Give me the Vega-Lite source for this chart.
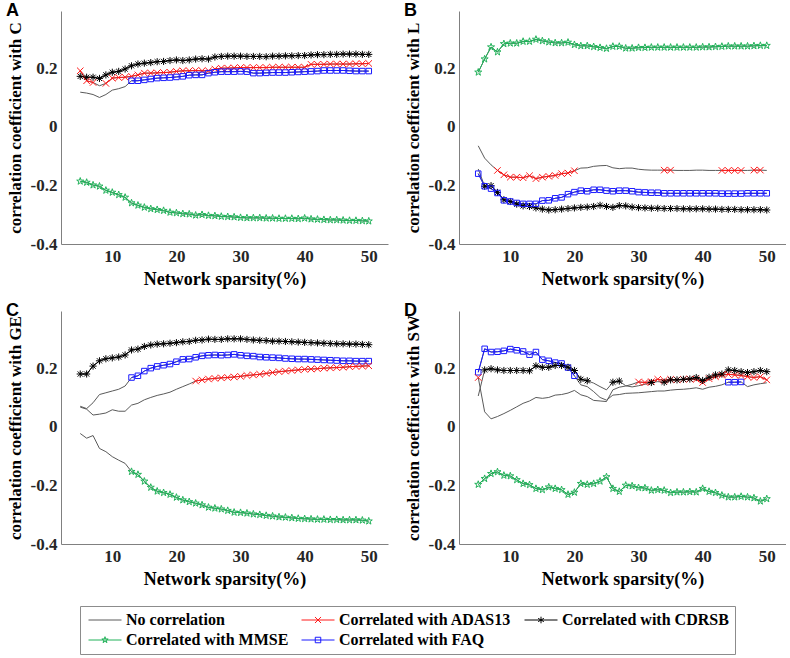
{
"$schema": "https://vega.github.io/schema/vega-lite/v6.json",
"background": "white",
"padding": {"left": 6, "right": 0, "top": 2, "bottom": 0},
"datasets": {"d": [
{"p":"A","s":"CDRSB","x":5,"y":0.172,"g":1},{"p":"A","s":"CDRSB","x":6,"y":0.169,"g":1},{"p":"A","s":"CDRSB","x":7,"y":0.169,"g":1},{"p":"A","s":"CDRSB","x":8,"y":0.165,"g":1},{"p":"A","s":"CDRSB","x":9,"y":0.177,"g":1},{"p":"A","s":"CDRSB","x":10,"y":0.186,"g":1},{"p":"A","s":"CDRSB","x":11,"y":0.189,"g":1},{"p":"A","s":"CDRSB","x":12,"y":0.197,"g":1},{"p":"A","s":"CDRSB","x":13,"y":0.208,"g":1},{"p":"A","s":"CDRSB","x":14,"y":0.214,"g":1},
{"p":"A","s":"CDRSB","x":15,"y":0.217,"g":1},{"p":"A","s":"CDRSB","x":16,"y":0.219,"g":1},{"p":"A","s":"CDRSB","x":17,"y":0.222,"g":1},{"p":"A","s":"CDRSB","x":18,"y":0.223,"g":1},{"p":"A","s":"CDRSB","x":19,"y":0.226,"g":1},{"p":"A","s":"CDRSB","x":20,"y":0.228,"g":1},{"p":"A","s":"CDRSB","x":21,"y":0.226,"g":1},{"p":"A","s":"CDRSB","x":22,"y":0.228,"g":1},{"p":"A","s":"CDRSB","x":23,"y":0.231,"g":1},{"p":"A","s":"CDRSB","x":24,"y":0.232,"g":1},
{"p":"A","s":"CDRSB","x":25,"y":0.231,"g":1},{"p":"A","s":"CDRSB","x":26,"y":0.238,"g":1},{"p":"A","s":"CDRSB","x":27,"y":0.24,"g":1},{"p":"A","s":"CDRSB","x":28,"y":0.241,"g":1},{"p":"A","s":"CDRSB","x":29,"y":0.241,"g":1},{"p":"A","s":"CDRSB","x":30,"y":0.241,"g":1},{"p":"A","s":"CDRSB","x":31,"y":0.24,"g":1},{"p":"A","s":"CDRSB","x":32,"y":0.24,"g":1},{"p":"A","s":"CDRSB","x":33,"y":0.24,"g":1},{"p":"A","s":"CDRSB","x":34,"y":0.239,"g":1},
{"p":"A","s":"CDRSB","x":35,"y":0.241,"g":1},{"p":"A","s":"CDRSB","x":36,"y":0.241,"g":1},{"p":"A","s":"CDRSB","x":37,"y":0.242,"g":1},{"p":"A","s":"CDRSB","x":38,"y":0.242,"g":1},{"p":"A","s":"CDRSB","x":39,"y":0.243,"g":1},{"p":"A","s":"CDRSB","x":40,"y":0.243,"g":1},{"p":"A","s":"CDRSB","x":41,"y":0.245,"g":1},{"p":"A","s":"CDRSB","x":42,"y":0.246,"g":1},{"p":"A","s":"CDRSB","x":43,"y":0.246,"g":1},{"p":"A","s":"CDRSB","x":44,"y":0.247,"g":1},
{"p":"A","s":"CDRSB","x":45,"y":0.247,"g":1},{"p":"A","s":"CDRSB","x":46,"y":0.248,"g":1},{"p":"A","s":"CDRSB","x":47,"y":0.248,"g":1},{"p":"A","s":"CDRSB","x":48,"y":0.248,"g":1},{"p":"A","s":"CDRSB","x":49,"y":0.247,"g":1},{"p":"A","s":"CDRSB","x":50,"y":0.247,"g":1},
{"p":"A","s":"ADAS13","x":5,"y":0.191,"g":1},{"p":"A","s":"ADAS13","x":6,"y":0.157,"g":1},{"p":"A","s":"ADAS13","x":7,"y":0.151,"g":1},{"p":"A","s":"ADAS13","x":8,"y":0.14,"g":0},{"p":"A","s":"ADAS13","x":9,"y":0.148,"g":1},{"p":"A","s":"ADAS13","x":10,"y":0.166,"g":1},{"p":"A","s":"ADAS13","x":11,"y":0.168,"g":1},{"p":"A","s":"ADAS13","x":12,"y":0.169,"g":1},{"p":"A","s":"ADAS13","x":13,"y":0.172,"g":1},{"p":"A","s":"ADAS13","x":14,"y":0.177,"g":1},
{"p":"A","s":"ADAS13","x":15,"y":0.183,"g":1},{"p":"A","s":"ADAS13","x":16,"y":0.183,"g":1},{"p":"A","s":"ADAS13","x":17,"y":0.184,"g":1},{"p":"A","s":"ADAS13","x":18,"y":0.185,"g":1},{"p":"A","s":"ADAS13","x":19,"y":0.186,"g":1},{"p":"A","s":"ADAS13","x":20,"y":0.189,"g":1},{"p":"A","s":"ADAS13","x":21,"y":0.191,"g":1},{"p":"A","s":"ADAS13","x":22,"y":0.191,"g":1},{"p":"A","s":"ADAS13","x":23,"y":0.192,"g":1},{"p":"A","s":"ADAS13","x":24,"y":0.191,"g":1},
{"p":"A","s":"ADAS13","x":25,"y":0.191,"g":1},{"p":"A","s":"ADAS13","x":26,"y":0.197,"g":1},{"p":"A","s":"ADAS13","x":27,"y":0.2,"g":1},{"p":"A","s":"ADAS13","x":28,"y":0.2,"g":1},{"p":"A","s":"ADAS13","x":29,"y":0.201,"g":1},{"p":"A","s":"ADAS13","x":30,"y":0.202,"g":1},{"p":"A","s":"ADAS13","x":31,"y":0.202,"g":1},{"p":"A","s":"ADAS13","x":32,"y":0.202,"g":1},{"p":"A","s":"ADAS13","x":33,"y":0.202,"g":1},{"p":"A","s":"ADAS13","x":34,"y":0.202,"g":1},
{"p":"A","s":"ADAS13","x":35,"y":0.203,"g":1},{"p":"A","s":"ADAS13","x":36,"y":0.203,"g":1},{"p":"A","s":"ADAS13","x":37,"y":0.203,"g":1},{"p":"A","s":"ADAS13","x":38,"y":0.203,"g":1},{"p":"A","s":"ADAS13","x":39,"y":0.203,"g":1},{"p":"A","s":"ADAS13","x":40,"y":0.203,"g":1},{"p":"A","s":"ADAS13","x":41,"y":0.213,"g":1},{"p":"A","s":"ADAS13","x":42,"y":0.213,"g":1},{"p":"A","s":"ADAS13","x":43,"y":0.213,"g":1},{"p":"A","s":"ADAS13","x":44,"y":0.214,"g":1},
{"p":"A","s":"ADAS13","x":45,"y":0.214,"g":1},{"p":"A","s":"ADAS13","x":46,"y":0.214,"g":1},{"p":"A","s":"ADAS13","x":47,"y":0.214,"g":1},{"p":"A","s":"ADAS13","x":48,"y":0.215,"g":1},{"p":"A","s":"ADAS13","x":49,"y":0.215,"g":1},{"p":"A","s":"ADAS13","x":50,"y":0.216,"g":1},
{"p":"A","s":"FAQ","x":5,"y":0.118,"g":0},{"p":"A","s":"FAQ","x":6,"y":0.115,"g":0},{"p":"A","s":"FAQ","x":7,"y":0.11,"g":0},{"p":"A","s":"FAQ","x":8,"y":0.1,"g":0},{"p":"A","s":"FAQ","x":9,"y":0.11,"g":0},{"p":"A","s":"FAQ","x":10,"y":0.125,"g":0},{"p":"A","s":"FAQ","x":11,"y":0.13,"g":0},{"p":"A","s":"FAQ","x":12,"y":0.137,"g":0},{"p":"A","s":"FAQ","x":13,"y":0.157,"g":1},{"p":"A","s":"FAQ","x":14,"y":0.157,"g":1},
{"p":"A","s":"FAQ","x":15,"y":0.16,"g":1},{"p":"A","s":"FAQ","x":16,"y":0.163,"g":1},{"p":"A","s":"FAQ","x":17,"y":0.166,"g":1},{"p":"A","s":"FAQ","x":18,"y":0.167,"g":1},{"p":"A","s":"FAQ","x":19,"y":0.168,"g":1},{"p":"A","s":"FAQ","x":20,"y":0.17,"g":1},{"p":"A","s":"FAQ","x":21,"y":0.172,"g":1},{"p":"A","s":"FAQ","x":22,"y":0.176,"g":1},{"p":"A","s":"FAQ","x":23,"y":0.177,"g":1},{"p":"A","s":"FAQ","x":24,"y":0.177,"g":1},
{"p":"A","s":"FAQ","x":25,"y":0.183,"g":1},{"p":"A","s":"FAQ","x":26,"y":0.186,"g":1},{"p":"A","s":"FAQ","x":27,"y":0.188,"g":1},{"p":"A","s":"FAQ","x":28,"y":0.188,"g":1},{"p":"A","s":"FAQ","x":29,"y":0.188,"g":1},{"p":"A","s":"FAQ","x":30,"y":0.189,"g":1},{"p":"A","s":"FAQ","x":31,"y":0.188,"g":1},{"p":"A","s":"FAQ","x":32,"y":0.183,"g":1},{"p":"A","s":"FAQ","x":33,"y":0.183,"g":1},{"p":"A","s":"FAQ","x":34,"y":0.184,"g":1},
{"p":"A","s":"FAQ","x":35,"y":0.185,"g":1},{"p":"A","s":"FAQ","x":36,"y":0.185,"g":1},{"p":"A","s":"FAQ","x":37,"y":0.185,"g":1},{"p":"A","s":"FAQ","x":38,"y":0.186,"g":1},{"p":"A","s":"FAQ","x":39,"y":0.187,"g":1},{"p":"A","s":"FAQ","x":40,"y":0.188,"g":1},{"p":"A","s":"FAQ","x":41,"y":0.189,"g":1},{"p":"A","s":"FAQ","x":42,"y":0.19,"g":1},{"p":"A","s":"FAQ","x":43,"y":0.192,"g":1},{"p":"A","s":"FAQ","x":44,"y":0.192,"g":1},
{"p":"A","s":"FAQ","x":45,"y":0.192,"g":1},{"p":"A","s":"FAQ","x":46,"y":0.192,"g":1},{"p":"A","s":"FAQ","x":47,"y":0.191,"g":1},{"p":"A","s":"FAQ","x":48,"y":0.19,"g":1},{"p":"A","s":"FAQ","x":49,"y":0.19,"g":1},{"p":"A","s":"FAQ","x":50,"y":0.19,"g":1},
{"p":"A","s":"MMSE","x":5,"y":-0.186,"g":1},{"p":"A","s":"MMSE","x":6,"y":-0.19,"g":1},{"p":"A","s":"MMSE","x":7,"y":-0.199,"g":1},{"p":"A","s":"MMSE","x":8,"y":-0.203,"g":1},{"p":"A","s":"MMSE","x":9,"y":-0.217,"g":1},{"p":"A","s":"MMSE","x":10,"y":-0.224,"g":1},{"p":"A","s":"MMSE","x":11,"y":-0.232,"g":1},{"p":"A","s":"MMSE","x":12,"y":-0.241,"g":1},{"p":"A","s":"MMSE","x":13,"y":-0.26,"g":1},{"p":"A","s":"MMSE","x":14,"y":-0.268,"g":1},
{"p":"A","s":"MMSE","x":15,"y":-0.275,"g":1},{"p":"A","s":"MMSE","x":16,"y":-0.28,"g":1},{"p":"A","s":"MMSE","x":17,"y":-0.283,"g":1},{"p":"A","s":"MMSE","x":18,"y":-0.286,"g":1},{"p":"A","s":"MMSE","x":19,"y":-0.292,"g":1},{"p":"A","s":"MMSE","x":20,"y":-0.294,"g":1},{"p":"A","s":"MMSE","x":21,"y":-0.297,"g":1},{"p":"A","s":"MMSE","x":22,"y":-0.298,"g":1},{"p":"A","s":"MMSE","x":23,"y":-0.302,"g":1},{"p":"A","s":"MMSE","x":24,"y":-0.3,"g":1},
{"p":"A","s":"MMSE","x":25,"y":-0.303,"g":1},{"p":"A","s":"MMSE","x":26,"y":-0.304,"g":1},{"p":"A","s":"MMSE","x":27,"y":-0.306,"g":1},{"p":"A","s":"MMSE","x":28,"y":-0.307,"g":1},{"p":"A","s":"MMSE","x":29,"y":-0.308,"g":1},{"p":"A","s":"MMSE","x":30,"y":-0.31,"g":1},{"p":"A","s":"MMSE","x":31,"y":-0.311,"g":1},{"p":"A","s":"MMSE","x":32,"y":-0.311,"g":1},{"p":"A","s":"MMSE","x":33,"y":-0.311,"g":1},{"p":"A","s":"MMSE","x":34,"y":-0.312,"g":1},
{"p":"A","s":"MMSE","x":35,"y":-0.312,"g":1},{"p":"A","s":"MMSE","x":36,"y":-0.313,"g":1},{"p":"A","s":"MMSE","x":37,"y":-0.313,"g":1},{"p":"A","s":"MMSE","x":38,"y":-0.313,"g":1},{"p":"A","s":"MMSE","x":39,"y":-0.314,"g":1},{"p":"A","s":"MMSE","x":40,"y":-0.312,"g":1},{"p":"A","s":"MMSE","x":41,"y":-0.315,"g":1},{"p":"A","s":"MMSE","x":42,"y":-0.316,"g":1},{"p":"A","s":"MMSE","x":43,"y":-0.317,"g":1},{"p":"A","s":"MMSE","x":44,"y":-0.318,"g":1},
{"p":"A","s":"MMSE","x":45,"y":-0.318,"g":1},{"p":"A","s":"MMSE","x":46,"y":-0.319,"g":1},{"p":"A","s":"MMSE","x":47,"y":-0.32,"g":1},{"p":"A","s":"MMSE","x":48,"y":-0.32,"g":1},{"p":"A","s":"MMSE","x":49,"y":-0.321,"g":1},{"p":"A","s":"MMSE","x":50,"y":-0.322,"g":1},

{"p":"B","s":"ADAS13","x":5,"y":-0.065,"g":0},{"p":"B","s":"ADAS13","x":6,"y":-0.107,"g":0},{"p":"B","s":"ADAS13","x":7,"y":-0.13,"g":0},{"p":"B","s":"ADAS13","x":8,"y":-0.149,"g":1},{"p":"B","s":"ADAS13","x":9,"y":-0.164,"g":1},{"p":"B","s":"ADAS13","x":10,"y":-0.172,"g":1},{"p":"B","s":"ADAS13","x":11,"y":-0.172,"g":1},{"p":"B","s":"ADAS13","x":12,"y":-0.174,"g":1},{"p":"B","s":"ADAS13","x":13,"y":-0.167,"g":1},{"p":"B","s":"ADAS13","x":14,"y":-0.177,"g":1},
{"p":"B","s":"ADAS13","x":15,"y":-0.172,"g":1},{"p":"B","s":"ADAS13","x":16,"y":-0.169,"g":1},{"p":"B","s":"ADAS13","x":17,"y":-0.166,"g":1},{"p":"B","s":"ADAS13","x":18,"y":-0.16,"g":1},{"p":"B","s":"ADAS13","x":19,"y":-0.158,"g":1},{"p":"B","s":"ADAS13","x":20,"y":-0.15,"g":1},{"p":"B","s":"ADAS13","x":21,"y":-0.141,"g":0},{"p":"B","s":"ADAS13","x":22,"y":-0.14,"g":0},{"p":"B","s":"ADAS13","x":23,"y":-0.135,"g":0},{"p":"B","s":"ADAS13","x":24,"y":-0.133,"g":0},
{"p":"B","s":"ADAS13","x":25,"y":-0.132,"g":0},{"p":"B","s":"ADAS13","x":26,"y":-0.14,"g":0},{"p":"B","s":"ADAS13","x":27,"y":-0.143,"g":0},{"p":"B","s":"ADAS13","x":28,"y":-0.141,"g":0},{"p":"B","s":"ADAS13","x":29,"y":-0.141,"g":0},{"p":"B","s":"ADAS13","x":30,"y":-0.145,"g":0},{"p":"B","s":"ADAS13","x":31,"y":-0.147,"g":0},{"p":"B","s":"ADAS13","x":32,"y":-0.148,"g":0},{"p":"B","s":"ADAS13","x":33,"y":-0.148,"g":0},{"p":"B","s":"ADAS13","x":34,"y":-0.148,"g":1},
{"p":"B","s":"ADAS13","x":35,"y":-0.148,"g":1},{"p":"B","s":"ADAS13","x":36,"y":-0.149,"g":0},{"p":"B","s":"ADAS13","x":37,"y":-0.149,"g":0},{"p":"B","s":"ADAS13","x":38,"y":-0.149,"g":0},{"p":"B","s":"ADAS13","x":39,"y":-0.148,"g":0},{"p":"B","s":"ADAS13","x":40,"y":-0.148,"g":0},{"p":"B","s":"ADAS13","x":41,"y":-0.149,"g":0},{"p":"B","s":"ADAS13","x":42,"y":-0.149,"g":0},{"p":"B","s":"ADAS13","x":43,"y":-0.149,"g":1},{"p":"B","s":"ADAS13","x":44,"y":-0.149,"g":1},
{"p":"B","s":"ADAS13","x":45,"y":-0.149,"g":1},{"p":"B","s":"ADAS13","x":46,"y":-0.149,"g":1},{"p":"B","s":"ADAS13","x":47,"y":-0.149,"g":0},{"p":"B","s":"ADAS13","x":48,"y":-0.148,"g":1},{"p":"B","s":"ADAS13","x":49,"y":-0.148,"g":1},{"p":"B","s":"ADAS13","x":50,"y":-0.149,"g":0},
{"p":"B","s":"CDRSB","x":5,"y":-0.144,"g":0},{"p":"B","s":"CDRSB","x":6,"y":-0.203,"g":1},{"p":"B","s":"CDRSB","x":7,"y":-0.201,"g":1},{"p":"B","s":"CDRSB","x":8,"y":-0.224,"g":1},{"p":"B","s":"CDRSB","x":9,"y":-0.249,"g":1},{"p":"B","s":"CDRSB","x":10,"y":-0.255,"g":1},{"p":"B","s":"CDRSB","x":11,"y":-0.264,"g":1},{"p":"B","s":"CDRSB","x":12,"y":-0.27,"g":1},{"p":"B","s":"CDRSB","x":13,"y":-0.272,"g":1},{"p":"B","s":"CDRSB","x":14,"y":-0.277,"g":1},
{"p":"B","s":"CDRSB","x":15,"y":-0.281,"g":1},{"p":"B","s":"CDRSB","x":16,"y":-0.284,"g":1},{"p":"B","s":"CDRSB","x":17,"y":-0.283,"g":1},{"p":"B","s":"CDRSB","x":18,"y":-0.281,"g":1},{"p":"B","s":"CDRSB","x":19,"y":-0.279,"g":1},{"p":"B","s":"CDRSB","x":20,"y":-0.277,"g":1},{"p":"B","s":"CDRSB","x":21,"y":-0.275,"g":1},{"p":"B","s":"CDRSB","x":22,"y":-0.274,"g":1},{"p":"B","s":"CDRSB","x":23,"y":-0.272,"g":1},{"p":"B","s":"CDRSB","x":24,"y":-0.268,"g":1},
{"p":"B","s":"CDRSB","x":25,"y":-0.272,"g":1},{"p":"B","s":"CDRSB","x":26,"y":-0.275,"g":1},{"p":"B","s":"CDRSB","x":27,"y":-0.269,"g":1},{"p":"B","s":"CDRSB","x":28,"y":-0.27,"g":1},{"p":"B","s":"CDRSB","x":29,"y":-0.274,"g":1},{"p":"B","s":"CDRSB","x":30,"y":-0.276,"g":1},{"p":"B","s":"CDRSB","x":31,"y":-0.277,"g":1},{"p":"B","s":"CDRSB","x":32,"y":-0.278,"g":1},{"p":"B","s":"CDRSB","x":33,"y":-0.278,"g":1},{"p":"B","s":"CDRSB","x":34,"y":-0.279,"g":1},
{"p":"B","s":"CDRSB","x":35,"y":-0.279,"g":1},{"p":"B","s":"CDRSB","x":36,"y":-0.279,"g":1},{"p":"B","s":"CDRSB","x":37,"y":-0.28,"g":1},{"p":"B","s":"CDRSB","x":38,"y":-0.28,"g":1},{"p":"B","s":"CDRSB","x":39,"y":-0.28,"g":1},{"p":"B","s":"CDRSB","x":40,"y":-0.28,"g":1},{"p":"B","s":"CDRSB","x":41,"y":-0.281,"g":1},{"p":"B","s":"CDRSB","x":42,"y":-0.281,"g":1},{"p":"B","s":"CDRSB","x":43,"y":-0.282,"g":1},{"p":"B","s":"CDRSB","x":44,"y":-0.282,"g":1},
{"p":"B","s":"CDRSB","x":45,"y":-0.282,"g":1},{"p":"B","s":"CDRSB","x":46,"y":-0.283,"g":1},{"p":"B","s":"CDRSB","x":47,"y":-0.283,"g":1},{"p":"B","s":"CDRSB","x":48,"y":-0.283,"g":1},{"p":"B","s":"CDRSB","x":49,"y":-0.283,"g":1},{"p":"B","s":"CDRSB","x":50,"y":-0.284,"g":1},
{"p":"B","s":"FAQ","x":5,"y":-0.16,"g":1},{"p":"B","s":"FAQ","x":6,"y":-0.203,"g":1},{"p":"B","s":"FAQ","x":7,"y":-0.211,"g":1},{"p":"B","s":"FAQ","x":8,"y":-0.226,"g":1},{"p":"B","s":"FAQ","x":9,"y":-0.251,"g":1},{"p":"B","s":"FAQ","x":10,"y":-0.255,"g":1},{"p":"B","s":"FAQ","x":11,"y":-0.26,"g":1},{"p":"B","s":"FAQ","x":12,"y":-0.263,"g":1},{"p":"B","s":"FAQ","x":13,"y":-0.263,"g":1},{"p":"B","s":"FAQ","x":14,"y":-0.263,"g":1},
{"p":"B","s":"FAQ","x":15,"y":-0.252,"g":1},{"p":"B","s":"FAQ","x":16,"y":-0.251,"g":1},{"p":"B","s":"FAQ","x":17,"y":-0.244,"g":1},{"p":"B","s":"FAQ","x":18,"y":-0.241,"g":1},{"p":"B","s":"FAQ","x":19,"y":-0.23,"g":1},{"p":"B","s":"FAQ","x":20,"y":-0.223,"g":1},{"p":"B","s":"FAQ","x":21,"y":-0.218,"g":1},{"p":"B","s":"FAQ","x":22,"y":-0.22,"g":1},{"p":"B","s":"FAQ","x":23,"y":-0.215,"g":1},{"p":"B","s":"FAQ","x":24,"y":-0.215,"g":1},
{"p":"B","s":"FAQ","x":25,"y":-0.218,"g":1},{"p":"B","s":"FAQ","x":26,"y":-0.22,"g":1},{"p":"B","s":"FAQ","x":27,"y":-0.218,"g":1},{"p":"B","s":"FAQ","x":28,"y":-0.218,"g":1},{"p":"B","s":"FAQ","x":29,"y":-0.22,"g":1},{"p":"B","s":"FAQ","x":30,"y":-0.223,"g":1},{"p":"B","s":"FAQ","x":31,"y":-0.224,"g":1},{"p":"B","s":"FAQ","x":32,"y":-0.225,"g":1},{"p":"B","s":"FAQ","x":33,"y":-0.225,"g":1},{"p":"B","s":"FAQ","x":34,"y":-0.227,"g":1},
{"p":"B","s":"FAQ","x":35,"y":-0.227,"g":1},{"p":"B","s":"FAQ","x":36,"y":-0.227,"g":1},{"p":"B","s":"FAQ","x":37,"y":-0.227,"g":1},{"p":"B","s":"FAQ","x":38,"y":-0.227,"g":1},{"p":"B","s":"FAQ","x":39,"y":-0.227,"g":1},{"p":"B","s":"FAQ","x":40,"y":-0.227,"g":1},{"p":"B","s":"FAQ","x":41,"y":-0.227,"g":1},{"p":"B","s":"FAQ","x":42,"y":-0.227,"g":1},{"p":"B","s":"FAQ","x":43,"y":-0.228,"g":1},{"p":"B","s":"FAQ","x":44,"y":-0.228,"g":1},
{"p":"B","s":"FAQ","x":45,"y":-0.228,"g":1},{"p":"B","s":"FAQ","x":46,"y":-0.228,"g":1},{"p":"B","s":"FAQ","x":47,"y":-0.227,"g":1},{"p":"B","s":"FAQ","x":48,"y":-0.227,"g":1},{"p":"B","s":"FAQ","x":49,"y":-0.227,"g":1},{"p":"B","s":"FAQ","x":50,"y":-0.227,"g":1},
{"p":"B","s":"MMSE","x":5,"y":0.186,"g":1},{"p":"B","s":"MMSE","x":6,"y":0.231,"g":1},{"p":"B","s":"MMSE","x":7,"y":0.272,"g":1},{"p":"B","s":"MMSE","x":8,"y":0.255,"g":1},{"p":"B","s":"MMSE","x":9,"y":0.283,"g":1},{"p":"B","s":"MMSE","x":10,"y":0.285,"g":1},{"p":"B","s":"MMSE","x":11,"y":0.285,"g":1},{"p":"B","s":"MMSE","x":12,"y":0.291,"g":1},{"p":"B","s":"MMSE","x":13,"y":0.291,"g":1},{"p":"B","s":"MMSE","x":14,"y":0.298,"g":1},
{"p":"B","s":"MMSE","x":15,"y":0.293,"g":1},{"p":"B","s":"MMSE","x":16,"y":0.289,"g":1},{"p":"B","s":"MMSE","x":17,"y":0.286,"g":1},{"p":"B","s":"MMSE","x":18,"y":0.286,"g":1},{"p":"B","s":"MMSE","x":19,"y":0.288,"g":1},{"p":"B","s":"MMSE","x":20,"y":0.28,"g":1},{"p":"B","s":"MMSE","x":21,"y":0.276,"g":1},{"p":"B","s":"MMSE","x":22,"y":0.276,"g":1},{"p":"B","s":"MMSE","x":23,"y":0.273,"g":1},{"p":"B","s":"MMSE","x":24,"y":0.27,"g":1},
{"p":"B","s":"MMSE","x":25,"y":0.267,"g":1},{"p":"B","s":"MMSE","x":26,"y":0.274,"g":1},{"p":"B","s":"MMSE","x":27,"y":0.274,"g":1},{"p":"B","s":"MMSE","x":28,"y":0.268,"g":1},{"p":"B","s":"MMSE","x":29,"y":0.268,"g":1},{"p":"B","s":"MMSE","x":30,"y":0.27,"g":1},{"p":"B","s":"MMSE","x":31,"y":0.27,"g":1},{"p":"B","s":"MMSE","x":32,"y":0.271,"g":1},{"p":"B","s":"MMSE","x":33,"y":0.271,"g":1},{"p":"B","s":"MMSE","x":34,"y":0.271,"g":1},
{"p":"B","s":"MMSE","x":35,"y":0.271,"g":1},{"p":"B","s":"MMSE","x":36,"y":0.271,"g":1},{"p":"B","s":"MMSE","x":37,"y":0.271,"g":1},{"p":"B","s":"MMSE","x":38,"y":0.271,"g":1},{"p":"B","s":"MMSE","x":39,"y":0.271,"g":1},{"p":"B","s":"MMSE","x":40,"y":0.272,"g":1},{"p":"B","s":"MMSE","x":41,"y":0.272,"g":1},{"p":"B","s":"MMSE","x":42,"y":0.273,"g":1},{"p":"B","s":"MMSE","x":43,"y":0.274,"g":1},{"p":"B","s":"MMSE","x":44,"y":0.275,"g":1},
{"p":"B","s":"MMSE","x":45,"y":0.275,"g":1},{"p":"B","s":"MMSE","x":46,"y":0.275,"g":1},{"p":"B","s":"MMSE","x":47,"y":0.275,"g":1},{"p":"B","s":"MMSE","x":48,"y":0.276,"g":1},{"p":"B","s":"MMSE","x":49,"y":0.277,"g":1},{"p":"B","s":"MMSE","x":50,"y":0.277,"g":1},

{"p":"C","s":"CDRSB","x":5,"y":0.18,"g":1},{"p":"C","s":"CDRSB","x":6,"y":0.18,"g":1},{"p":"C","s":"CDRSB","x":7,"y":0.207,"g":1},{"p":"C","s":"CDRSB","x":8,"y":0.225,"g":1},{"p":"C","s":"CDRSB","x":9,"y":0.232,"g":1},{"p":"C","s":"CDRSB","x":10,"y":0.235,"g":1},{"p":"C","s":"CDRSB","x":11,"y":0.238,"g":1},{"p":"C","s":"CDRSB","x":12,"y":0.245,"g":1},{"p":"C","s":"CDRSB","x":13,"y":0.262,"g":1},{"p":"C","s":"CDRSB","x":14,"y":0.265,"g":1},
{"p":"C","s":"CDRSB","x":15,"y":0.274,"g":1},{"p":"C","s":"CDRSB","x":16,"y":0.279,"g":1},{"p":"C","s":"CDRSB","x":17,"y":0.282,"g":1},{"p":"C","s":"CDRSB","x":18,"y":0.283,"g":1},{"p":"C","s":"CDRSB","x":19,"y":0.285,"g":1},{"p":"C","s":"CDRSB","x":20,"y":0.287,"g":1},{"p":"C","s":"CDRSB","x":21,"y":0.29,"g":1},{"p":"C","s":"CDRSB","x":22,"y":0.291,"g":1},{"p":"C","s":"CDRSB","x":23,"y":0.295,"g":1},{"p":"C","s":"CDRSB","x":24,"y":0.296,"g":1},
{"p":"C","s":"CDRSB","x":25,"y":0.299,"g":1},{"p":"C","s":"CDRSB","x":26,"y":0.298,"g":1},{"p":"C","s":"CDRSB","x":27,"y":0.298,"g":1},{"p":"C","s":"CDRSB","x":28,"y":0.3,"g":1},{"p":"C","s":"CDRSB","x":29,"y":0.3,"g":1},{"p":"C","s":"CDRSB","x":30,"y":0.3,"g":1},{"p":"C","s":"CDRSB","x":31,"y":0.298,"g":1},{"p":"C","s":"CDRSB","x":32,"y":0.296,"g":1},{"p":"C","s":"CDRSB","x":33,"y":0.295,"g":1},{"p":"C","s":"CDRSB","x":34,"y":0.294,"g":1},
{"p":"C","s":"CDRSB","x":35,"y":0.292,"g":1},{"p":"C","s":"CDRSB","x":36,"y":0.292,"g":1},{"p":"C","s":"CDRSB","x":37,"y":0.291,"g":1},{"p":"C","s":"CDRSB","x":38,"y":0.29,"g":1},{"p":"C","s":"CDRSB","x":39,"y":0.289,"g":1},{"p":"C","s":"CDRSB","x":40,"y":0.288,"g":1},{"p":"C","s":"CDRSB","x":41,"y":0.287,"g":1},{"p":"C","s":"CDRSB","x":42,"y":0.286,"g":1},{"p":"C","s":"CDRSB","x":43,"y":0.285,"g":1},{"p":"C","s":"CDRSB","x":44,"y":0.284,"g":1},
{"p":"C","s":"CDRSB","x":45,"y":0.283,"g":1},{"p":"C","s":"CDRSB","x":46,"y":0.283,"g":1},{"p":"C","s":"CDRSB","x":47,"y":0.282,"g":1},{"p":"C","s":"CDRSB","x":48,"y":0.282,"g":1},{"p":"C","s":"CDRSB","x":49,"y":0.281,"g":1},{"p":"C","s":"CDRSB","x":50,"y":0.28,"g":1},
{"p":"C","s":"FAQ","x":5,"y":0.07,"g":0},{"p":"C","s":"FAQ","x":6,"y":0.062,"g":0},{"p":"C","s":"FAQ","x":7,"y":0.082,"g":0},{"p":"C","s":"FAQ","x":8,"y":0.11,"g":0},{"p":"C","s":"FAQ","x":9,"y":0.116,"g":0},{"p":"C","s":"FAQ","x":10,"y":0.122,"g":0},{"p":"C","s":"FAQ","x":11,"y":0.128,"g":0},{"p":"C","s":"FAQ","x":12,"y":0.139,"g":0},{"p":"C","s":"FAQ","x":13,"y":0.168,"g":1},{"p":"C","s":"FAQ","x":14,"y":0.174,"g":1},
{"p":"C","s":"FAQ","x":15,"y":0.19,"g":1},{"p":"C","s":"FAQ","x":16,"y":0.2,"g":1},{"p":"C","s":"FAQ","x":17,"y":0.206,"g":1},{"p":"C","s":"FAQ","x":18,"y":0.21,"g":1},{"p":"C","s":"FAQ","x":19,"y":0.214,"g":1},{"p":"C","s":"FAQ","x":20,"y":0.222,"g":1},{"p":"C","s":"FAQ","x":21,"y":0.23,"g":1},{"p":"C","s":"FAQ","x":22,"y":0.231,"g":1},{"p":"C","s":"FAQ","x":23,"y":0.237,"g":1},{"p":"C","s":"FAQ","x":24,"y":0.242,"g":1},
{"p":"C","s":"FAQ","x":25,"y":0.244,"g":1},{"p":"C","s":"FAQ","x":26,"y":0.245,"g":1},{"p":"C","s":"FAQ","x":27,"y":0.244,"g":1},{"p":"C","s":"FAQ","x":28,"y":0.245,"g":1},{"p":"C","s":"FAQ","x":29,"y":0.247,"g":1},{"p":"C","s":"FAQ","x":30,"y":0.244,"g":1},{"p":"C","s":"FAQ","x":31,"y":0.242,"g":1},{"p":"C","s":"FAQ","x":32,"y":0.241,"g":1},{"p":"C","s":"FAQ","x":33,"y":0.238,"g":1},{"p":"C","s":"FAQ","x":34,"y":0.237,"g":1},
{"p":"C","s":"FAQ","x":35,"y":0.236,"g":1},{"p":"C","s":"FAQ","x":36,"y":0.235,"g":1},{"p":"C","s":"FAQ","x":37,"y":0.233,"g":1},{"p":"C","s":"FAQ","x":38,"y":0.232,"g":1},{"p":"C","s":"FAQ","x":39,"y":0.231,"g":1},{"p":"C","s":"FAQ","x":40,"y":0.231,"g":1},{"p":"C","s":"FAQ","x":41,"y":0.23,"g":1},{"p":"C","s":"FAQ","x":42,"y":0.229,"g":1},{"p":"C","s":"FAQ","x":43,"y":0.228,"g":1},{"p":"C","s":"FAQ","x":44,"y":0.227,"g":1},
{"p":"C","s":"FAQ","x":45,"y":0.226,"g":1},{"p":"C","s":"FAQ","x":46,"y":0.225,"g":1},{"p":"C","s":"FAQ","x":47,"y":0.225,"g":1},{"p":"C","s":"FAQ","x":48,"y":0.224,"g":1},{"p":"C","s":"FAQ","x":49,"y":0.224,"g":1},{"p":"C","s":"FAQ","x":50,"y":0.224,"g":1},
{"p":"C","s":"ADAS13","x":5,"y":0.067,"g":0},{"p":"C","s":"ADAS13","x":6,"y":0.06,"g":0},{"p":"C","s":"ADAS13","x":7,"y":0.04,"g":0},{"p":"C","s":"ADAS13","x":8,"y":0.043,"g":0},{"p":"C","s":"ADAS13","x":9,"y":0.047,"g":0},{"p":"C","s":"ADAS13","x":10,"y":0.058,"g":0},{"p":"C","s":"ADAS13","x":11,"y":0.053,"g":0},{"p":"C","s":"ADAS13","x":12,"y":0.053,"g":0},{"p":"C","s":"ADAS13","x":13,"y":0.074,"g":0},{"p":"C","s":"ADAS13","x":14,"y":0.08,"g":0},
{"p":"C","s":"ADAS13","x":15,"y":0.092,"g":0},{"p":"C","s":"ADAS13","x":16,"y":0.1,"g":0},{"p":"C","s":"ADAS13","x":17,"y":0.107,"g":0},{"p":"C","s":"ADAS13","x":18,"y":0.112,"g":0},{"p":"C","s":"ADAS13","x":19,"y":0.118,"g":0},{"p":"C","s":"ADAS13","x":20,"y":0.128,"g":0},{"p":"C","s":"ADAS13","x":21,"y":0.137,"g":0},{"p":"C","s":"ADAS13","x":22,"y":0.146,"g":0},{"p":"C","s":"ADAS13","x":23,"y":0.156,"g":1},{"p":"C","s":"ADAS13","x":24,"y":0.16,"g":1},
{"p":"C","s":"ADAS13","x":25,"y":0.163,"g":1},{"p":"C","s":"ADAS13","x":26,"y":0.165,"g":1},{"p":"C","s":"ADAS13","x":27,"y":0.167,"g":1},{"p":"C","s":"ADAS13","x":28,"y":0.168,"g":1},{"p":"C","s":"ADAS13","x":29,"y":0.17,"g":1},{"p":"C","s":"ADAS13","x":30,"y":0.172,"g":1},{"p":"C","s":"ADAS13","x":31,"y":0.175,"g":1},{"p":"C","s":"ADAS13","x":32,"y":0.177,"g":1},{"p":"C","s":"ADAS13","x":33,"y":0.179,"g":1},{"p":"C","s":"ADAS13","x":34,"y":0.182,"g":1},
{"p":"C","s":"ADAS13","x":35,"y":0.185,"g":1},{"p":"C","s":"ADAS13","x":36,"y":0.188,"g":1},{"p":"C","s":"ADAS13","x":37,"y":0.19,"g":1},{"p":"C","s":"ADAS13","x":38,"y":0.192,"g":1},{"p":"C","s":"ADAS13","x":39,"y":0.194,"g":1},{"p":"C","s":"ADAS13","x":40,"y":0.196,"g":1},{"p":"C","s":"ADAS13","x":41,"y":0.197,"g":1},{"p":"C","s":"ADAS13","x":42,"y":0.198,"g":1},{"p":"C","s":"ADAS13","x":43,"y":0.2,"g":1},{"p":"C","s":"ADAS13","x":44,"y":0.201,"g":1},
{"p":"C","s":"ADAS13","x":45,"y":0.202,"g":1},{"p":"C","s":"ADAS13","x":46,"y":0.203,"g":1},{"p":"C","s":"ADAS13","x":47,"y":0.205,"g":1},{"p":"C","s":"ADAS13","x":48,"y":0.206,"g":1},{"p":"C","s":"ADAS13","x":49,"y":0.207,"g":1},{"p":"C","s":"ADAS13","x":50,"y":0.208,"g":1},
{"p":"C","s":"MMSE","x":5,"y":-0.023,"g":0},{"p":"C","s":"MMSE","x":6,"y":-0.039,"g":0},{"p":"C","s":"MMSE","x":7,"y":-0.03,"g":0},{"p":"C","s":"MMSE","x":8,"y":-0.074,"g":0},{"p":"C","s":"MMSE","x":9,"y":-0.085,"g":0},{"p":"C","s":"MMSE","x":10,"y":-0.102,"g":0},{"p":"C","s":"MMSE","x":11,"y":-0.114,"g":0},{"p":"C","s":"MMSE","x":12,"y":-0.125,"g":0},{"p":"C","s":"MMSE","x":13,"y":-0.153,"g":1},{"p":"C","s":"MMSE","x":14,"y":-0.163,"g":1},
{"p":"C","s":"MMSE","x":15,"y":-0.186,"g":1},{"p":"C","s":"MMSE","x":16,"y":-0.207,"g":1},{"p":"C","s":"MMSE","x":17,"y":-0.22,"g":1},{"p":"C","s":"MMSE","x":18,"y":-0.225,"g":1},{"p":"C","s":"MMSE","x":19,"y":-0.231,"g":1},{"p":"C","s":"MMSE","x":20,"y":-0.241,"g":1},{"p":"C","s":"MMSE","x":21,"y":-0.25,"g":1},{"p":"C","s":"MMSE","x":22,"y":-0.256,"g":1},{"p":"C","s":"MMSE","x":23,"y":-0.261,"g":1},{"p":"C","s":"MMSE","x":24,"y":-0.267,"g":1},
{"p":"C","s":"MMSE","x":25,"y":-0.275,"g":1},{"p":"C","s":"MMSE","x":26,"y":-0.278,"g":1},{"p":"C","s":"MMSE","x":27,"y":-0.281,"g":1},{"p":"C","s":"MMSE","x":28,"y":-0.286,"g":1},{"p":"C","s":"MMSE","x":29,"y":-0.292,"g":1},{"p":"C","s":"MMSE","x":30,"y":-0.293,"g":1},{"p":"C","s":"MMSE","x":31,"y":-0.295,"g":1},{"p":"C","s":"MMSE","x":32,"y":-0.298,"g":1},{"p":"C","s":"MMSE","x":33,"y":-0.3,"g":1},{"p":"C","s":"MMSE","x":34,"y":-0.303,"g":1},
{"p":"C","s":"MMSE","x":35,"y":-0.305,"g":1},{"p":"C","s":"MMSE","x":36,"y":-0.308,"g":1},{"p":"C","s":"MMSE","x":37,"y":-0.309,"g":1},{"p":"C","s":"MMSE","x":38,"y":-0.311,"g":1},{"p":"C","s":"MMSE","x":39,"y":-0.313,"g":1},{"p":"C","s":"MMSE","x":40,"y":-0.314,"g":1},{"p":"C","s":"MMSE","x":41,"y":-0.315,"g":1},{"p":"C","s":"MMSE","x":42,"y":-0.316,"g":1},{"p":"C","s":"MMSE","x":43,"y":-0.316,"g":1},{"p":"C","s":"MMSE","x":44,"y":-0.317,"g":1},
{"p":"C","s":"MMSE","x":45,"y":-0.317,"g":1},{"p":"C","s":"MMSE","x":46,"y":-0.318,"g":1},{"p":"C","s":"MMSE","x":47,"y":-0.318,"g":1},{"p":"C","s":"MMSE","x":48,"y":-0.318,"g":1},{"p":"C","s":"MMSE","x":49,"y":-0.319,"g":1},{"p":"C","s":"MMSE","x":50,"y":-0.322,"g":1},

{"p":"D","s":"FAQ","x":5,"y":0.186,"g":1},{"p":"D","s":"FAQ","x":6,"y":0.266,"g":1},{"p":"D","s":"FAQ","x":7,"y":0.255,"g":1},{"p":"D","s":"FAQ","x":8,"y":0.256,"g":1},{"p":"D","s":"FAQ","x":9,"y":0.259,"g":1},{"p":"D","s":"FAQ","x":10,"y":0.265,"g":1},{"p":"D","s":"FAQ","x":11,"y":0.261,"g":1},{"p":"D","s":"FAQ","x":12,"y":0.257,"g":1},{"p":"D","s":"FAQ","x":13,"y":0.246,"g":1},{"p":"D","s":"FAQ","x":14,"y":0.255,"g":1},
{"p":"D","s":"FAQ","x":15,"y":0.229,"g":1},{"p":"D","s":"FAQ","x":16,"y":0.225,"g":1},{"p":"D","s":"FAQ","x":17,"y":0.219,"g":1},{"p":"D","s":"FAQ","x":18,"y":0.216,"g":1},{"p":"D","s":"FAQ","x":19,"y":0.202,"g":1},{"p":"D","s":"FAQ","x":20,"y":0.174,"g":1},{"p":"D","s":"FAQ","x":21,"y":0.143,"g":0},{"p":"D","s":"FAQ","x":22,"y":0.137,"g":0},{"p":"D","s":"FAQ","x":23,"y":0.12,"g":0},{"p":"D","s":"FAQ","x":24,"y":0.1,"g":0},
{"p":"D","s":"FAQ","x":25,"y":0.091,"g":0},{"p":"D","s":"FAQ","x":26,"y":0.108,"g":0},{"p":"D","s":"FAQ","x":27,"y":0.11,"g":0},{"p":"D","s":"FAQ","x":28,"y":0.114,"g":0},{"p":"D","s":"FAQ","x":29,"y":0.115,"g":0},{"p":"D","s":"FAQ","x":30,"y":0.116,"g":0},{"p":"D","s":"FAQ","x":31,"y":0.118,"g":0},{"p":"D","s":"FAQ","x":32,"y":0.12,"g":0},{"p":"D","s":"FAQ","x":33,"y":0.122,"g":0},{"p":"D","s":"FAQ","x":34,"y":0.122,"g":0},
{"p":"D","s":"FAQ","x":35,"y":0.125,"g":0},{"p":"D","s":"FAQ","x":36,"y":0.127,"g":0},{"p":"D","s":"FAQ","x":37,"y":0.128,"g":0},{"p":"D","s":"FAQ","x":38,"y":0.13,"g":0},{"p":"D","s":"FAQ","x":39,"y":0.133,"g":0},{"p":"D","s":"FAQ","x":40,"y":0.128,"g":0},{"p":"D","s":"FAQ","x":41,"y":0.135,"g":0},{"p":"D","s":"FAQ","x":42,"y":0.138,"g":0},{"p":"D","s":"FAQ","x":43,"y":0.143,"g":0},{"p":"D","s":"FAQ","x":44,"y":0.152,"g":1},
{"p":"D","s":"FAQ","x":45,"y":0.152,"g":1},{"p":"D","s":"FAQ","x":46,"y":0.153,"g":1},{"p":"D","s":"FAQ","x":47,"y":0.137,"g":0},{"p":"D","s":"FAQ","x":48,"y":0.143,"g":0},{"p":"D","s":"FAQ","x":49,"y":0.147,"g":0},{"p":"D","s":"FAQ","x":50,"y":0.15,"g":0},
{"p":"D","s":"ADAS13","x":5,"y":0.168,"g":1},{"p":"D","s":"ADAS13","x":6,"y":0.051,"g":0},{"p":"D","s":"ADAS13","x":7,"y":0.027,"g":0},{"p":"D","s":"ADAS13","x":8,"y":0.035,"g":0},{"p":"D","s":"ADAS13","x":9,"y":0.045,"g":0},{"p":"D","s":"ADAS13","x":10,"y":0.056,"g":0},{"p":"D","s":"ADAS13","x":11,"y":0.068,"g":0},{"p":"D","s":"ADAS13","x":12,"y":0.08,"g":0},{"p":"D","s":"ADAS13","x":13,"y":0.088,"g":0},{"p":"D","s":"ADAS13","x":14,"y":0.1,"g":0},
{"p":"D","s":"ADAS13","x":15,"y":0.097,"g":0},{"p":"D","s":"ADAS13","x":16,"y":0.1,"g":0},{"p":"D","s":"ADAS13","x":17,"y":0.108,"g":0},{"p":"D","s":"ADAS13","x":18,"y":0.11,"g":0},{"p":"D","s":"ADAS13","x":19,"y":0.115,"g":0},{"p":"D","s":"ADAS13","x":20,"y":0.124,"g":0},{"p":"D","s":"ADAS13","x":21,"y":0.109,"g":0},{"p":"D","s":"ADAS13","x":22,"y":0.103,"g":0},{"p":"D","s":"ADAS13","x":23,"y":0.09,"g":0},{"p":"D","s":"ADAS13","x":24,"y":0.088,"g":0},
{"p":"D","s":"ADAS13","x":25,"y":0.086,"g":0},{"p":"D","s":"ADAS13","x":26,"y":0.126,"g":0},{"p":"D","s":"ADAS13","x":27,"y":0.135,"g":0},{"p":"D","s":"ADAS13","x":28,"y":0.139,"g":0},{"p":"D","s":"ADAS13","x":29,"y":0.145,"g":0},{"p":"D","s":"ADAS13","x":30,"y":0.153,"g":1},{"p":"D","s":"ADAS13","x":31,"y":0.151,"g":1},{"p":"D","s":"ADAS13","x":32,"y":0.154,"g":1},{"p":"D","s":"ADAS13","x":33,"y":0.162,"g":1},{"p":"D","s":"ADAS13","x":34,"y":0.158,"g":1},
{"p":"D","s":"ADAS13","x":35,"y":0.162,"g":1},{"p":"D","s":"ADAS13","x":36,"y":0.16,"g":1},{"p":"D","s":"ADAS13","x":37,"y":0.162,"g":1},{"p":"D","s":"ADAS13","x":38,"y":0.163,"g":1},{"p":"D","s":"ADAS13","x":39,"y":0.162,"g":1},{"p":"D","s":"ADAS13","x":40,"y":0.151,"g":1},{"p":"D","s":"ADAS13","x":41,"y":0.164,"g":1},{"p":"D","s":"ADAS13","x":42,"y":0.171,"g":1},{"p":"D","s":"ADAS13","x":43,"y":0.176,"g":1},{"p":"D","s":"ADAS13","x":44,"y":0.179,"g":1},
{"p":"D","s":"ADAS13","x":45,"y":0.177,"g":1},{"p":"D","s":"ADAS13","x":46,"y":0.175,"g":1},{"p":"D","s":"ADAS13","x":47,"y":0.171,"g":1},{"p":"D","s":"ADAS13","x":48,"y":0.168,"g":1},{"p":"D","s":"ADAS13","x":49,"y":0.171,"g":1},{"p":"D","s":"ADAS13","x":50,"y":0.16,"g":1},
{"p":"D","s":"CDRSB","x":5,"y":0.105,"g":0},{"p":"D","s":"CDRSB","x":6,"y":0.194,"g":1},{"p":"D","s":"CDRSB","x":7,"y":0.198,"g":1},{"p":"D","s":"CDRSB","x":8,"y":0.194,"g":1},{"p":"D","s":"CDRSB","x":9,"y":0.192,"g":1},{"p":"D","s":"CDRSB","x":10,"y":0.192,"g":1},{"p":"D","s":"CDRSB","x":11,"y":0.192,"g":1},{"p":"D","s":"CDRSB","x":12,"y":0.192,"g":1},{"p":"D","s":"CDRSB","x":13,"y":0.191,"g":1},{"p":"D","s":"CDRSB","x":14,"y":0.208,"g":1},
{"p":"D","s":"CDRSB","x":15,"y":0.203,"g":1},{"p":"D","s":"CDRSB","x":16,"y":0.203,"g":1},{"p":"D","s":"CDRSB","x":17,"y":0.209,"g":1},{"p":"D","s":"CDRSB","x":18,"y":0.209,"g":1},{"p":"D","s":"CDRSB","x":19,"y":0.203,"g":1},{"p":"D","s":"CDRSB","x":20,"y":0.192,"g":1},{"p":"D","s":"CDRSB","x":21,"y":0.162,"g":1},{"p":"D","s":"CDRSB","x":22,"y":0.157,"g":1},{"p":"D","s":"CDRSB","x":23,"y":0.149,"g":0},{"p":"D","s":"CDRSB","x":24,"y":0.137,"g":0},
{"p":"D","s":"CDRSB","x":25,"y":0.126,"g":0},{"p":"D","s":"CDRSB","x":26,"y":0.152,"g":1},{"p":"D","s":"CDRSB","x":27,"y":0.156,"g":1},{"p":"D","s":"CDRSB","x":28,"y":0.14,"g":0},{"p":"D","s":"CDRSB","x":29,"y":0.136,"g":0},{"p":"D","s":"CDRSB","x":30,"y":0.14,"g":0},{"p":"D","s":"CDRSB","x":31,"y":0.145,"g":0},{"p":"D","s":"CDRSB","x":32,"y":0.151,"g":1},{"p":"D","s":"CDRSB","x":33,"y":0.154,"g":0},{"p":"D","s":"CDRSB","x":34,"y":0.152,"g":1},
{"p":"D","s":"CDRSB","x":35,"y":0.16,"g":1},{"p":"D","s":"CDRSB","x":36,"y":0.16,"g":1},{"p":"D","s":"CDRSB","x":37,"y":0.162,"g":1},{"p":"D","s":"CDRSB","x":38,"y":0.163,"g":1},{"p":"D","s":"CDRSB","x":39,"y":0.168,"g":1},{"p":"D","s":"CDRSB","x":40,"y":0.158,"g":1},{"p":"D","s":"CDRSB","x":41,"y":0.169,"g":1},{"p":"D","s":"CDRSB","x":42,"y":0.177,"g":1},{"p":"D","s":"CDRSB","x":43,"y":0.18,"g":1},{"p":"D","s":"CDRSB","x":44,"y":0.194,"g":1},
{"p":"D","s":"CDRSB","x":45,"y":0.192,"g":1},{"p":"D","s":"CDRSB","x":46,"y":0.188,"g":1},{"p":"D","s":"CDRSB","x":47,"y":0.185,"g":1},{"p":"D","s":"CDRSB","x":48,"y":0.188,"g":1},{"p":"D","s":"CDRSB","x":49,"y":0.192,"g":1},{"p":"D","s":"CDRSB","x":50,"y":0.188,"g":1},
{"p":"D","s":"MMSE","x":5,"y":-0.197,"g":1},{"p":"D","s":"MMSE","x":6,"y":-0.177,"g":1},{"p":"D","s":"MMSE","x":7,"y":-0.16,"g":1},{"p":"D","s":"MMSE","x":8,"y":-0.154,"g":1},{"p":"D","s":"MMSE","x":9,"y":-0.166,"g":1},{"p":"D","s":"MMSE","x":10,"y":-0.168,"g":1},{"p":"D","s":"MMSE","x":11,"y":-0.181,"g":1},{"p":"D","s":"MMSE","x":12,"y":-0.194,"g":1},{"p":"D","s":"MMSE","x":13,"y":-0.198,"g":1},{"p":"D","s":"MMSE","x":14,"y":-0.211,"g":1},
{"p":"D","s":"MMSE","x":15,"y":-0.215,"g":1},{"p":"D","s":"MMSE","x":16,"y":-0.206,"g":1},{"p":"D","s":"MMSE","x":17,"y":-0.211,"g":1},{"p":"D","s":"MMSE","x":18,"y":-0.215,"g":1},{"p":"D","s":"MMSE","x":19,"y":-0.231,"g":1},{"p":"D","s":"MMSE","x":20,"y":-0.224,"g":1},{"p":"D","s":"MMSE","x":21,"y":-0.194,"g":1},{"p":"D","s":"MMSE","x":22,"y":-0.197,"g":1},{"p":"D","s":"MMSE","x":23,"y":-0.194,"g":1},{"p":"D","s":"MMSE","x":24,"y":-0.186,"g":1},
{"p":"D","s":"MMSE","x":25,"y":-0.171,"g":1},{"p":"D","s":"MMSE","x":26,"y":-0.211,"g":1},{"p":"D","s":"MMSE","x":27,"y":-0.221,"g":1},{"p":"D","s":"MMSE","x":28,"y":-0.2,"g":1},{"p":"D","s":"MMSE","x":29,"y":-0.202,"g":1},{"p":"D","s":"MMSE","x":30,"y":-0.208,"g":1},{"p":"D","s":"MMSE","x":31,"y":-0.209,"g":1},{"p":"D","s":"MMSE","x":32,"y":-0.217,"g":1},{"p":"D","s":"MMSE","x":33,"y":-0.215,"g":1},{"p":"D","s":"MMSE","x":34,"y":-0.217,"g":1},
{"p":"D","s":"MMSE","x":35,"y":-0.225,"g":1},{"p":"D","s":"MMSE","x":36,"y":-0.223,"g":1},{"p":"D","s":"MMSE","x":37,"y":-0.223,"g":1},{"p":"D","s":"MMSE","x":38,"y":-0.222,"g":1},{"p":"D","s":"MMSE","x":39,"y":-0.223,"g":1},{"p":"D","s":"MMSE","x":40,"y":-0.211,"g":1},{"p":"D","s":"MMSE","x":41,"y":-0.221,"g":1},{"p":"D","s":"MMSE","x":42,"y":-0.225,"g":1},{"p":"D","s":"MMSE","x":43,"y":-0.234,"g":1},{"p":"D","s":"MMSE","x":44,"y":-0.24,"g":1},
{"p":"D","s":"MMSE","x":45,"y":-0.24,"g":1},{"p":"D","s":"MMSE","x":46,"y":-0.238,"g":1},{"p":"D","s":"MMSE","x":47,"y":-0.24,"g":1},{"p":"D","s":"MMSE","x":48,"y":-0.243,"g":1},{"p":"D","s":"MMSE","x":49,"y":-0.254,"g":1},{"p":"D","s":"MMSE","x":50,"y":-0.246,"g":1}
]},
"vconcat": [
 {"hconcat": [
  {"width": 327, "height": 233, "title": {"text": "A"},
   "data": {"name": "d"},
   "transform": [{"filter": "datum.p === 'A'"}, {"calculate": "datum.g === 1 ? datum.y : null", "as": "ys"}],
   "encoding": {"x": {"field": "x", "type": "quantitative", "scale": {"domain": [2, 53], "nice": false, "zero": false}, "axis": {"values": [10, 20, 30, 40, 50], "title": "Network sparsity(%)"}}},
   "layer": [
    {"mark": {"type": "line", "strokeWidth": 1}, "encoding": {"y": {"field": "y", "type": "quantitative", "scale": {"domain": [-0.4, 0.395], "nice": false, "zero": false}, "axis": {"values": [-0.4, -0.2, 0, 0.2], "labelExpr": "datum.value == 0 ? '0' : (datum.value < 0 ? '-' : '') + format(abs(datum.value), '.1f')", "title": "correlation coefficient with C"}}, "detail": {"field": "s", "type": "nominal"}, "color": {"datum": "No correlation", "type": "nominal", "title": null,
      "scale": {"domain": ["No correlation", "ADAS13", "CDRSB", "MMSE", "FAQ"], "range": ["#5a5a5a", "#ff1a1a", "#000000", "#22b25a", "#1a1aff"]},
      "legend": {"title": null, "gridAlign": "none",
       "labelExpr": "datum.label === 'No correlation' ? datum.label : 'Correlated with ' + datum.label",
       "encode": {"symbols": {"update": {"fill": {"value": "transparent"}, "strokeWidth": {"value": 1}, "shape": {"signal": "datum.value === 'ADAS13' ? 'M-1,0L5,0M1.45,-0.55L2.55,0.55M1.45,0.55L2.55,-0.55' : datum.value === 'CDRSB' ? 'M-1,0L5,0M2,-0.6L2,0.6M1.48,-0.3L2.52,0.3M1.48,0.3L2.52,-0.3' : datum.value === 'MMSE' ? 'M-1,0L5,0M2,-0.6L2.135,-0.185L2.571,-0.185L2.218,0.071L2.353,0.485L2,0.229L1.647,0.485L1.782,0.071L1.429,-0.185L1.865,-0.185Z' : datum.value === 'FAQ' ? 'M-1,0L5,0M1.5,-0.5L2.5,-0.5L2.5,0.5L1.5,0.5Z' : 'M-1,0L5,0'"}}}}}}}},
    {"mark": {"type": "line", "strokeWidth": 1}, "encoding": {"y": {"field": "ys", "type": "quantitative"}, "color": {"field": "s", "type": "nominal", "title": null}}},
    {"transform": [{"filter": "datum.g === 1"}], "mark": {"type": "point", "filled": false, "size": 42, "strokeWidth": 1, "opacity": 1}, "encoding": {"y": {"field": "y", "type": "quantitative"}, "color": {"field": "s", "type": "nominal", "title": null}, "shape": {"field": "s", "type": "nominal", "legend": null, "scale": {"domain": ["ADAS13", "CDRSB", "MMSE", "FAQ"], "range": ["M-1,-1L1,1M-1,1L1,-1", "M-1.1,0L1.1,0M0,-1.1L0,1.1M-0.8,-0.8L0.8,0.8M-0.8,0.8L0.8,-0.8", "M0,-1.15L0.26,-0.36L1.09,-0.36L0.42,0.14L0.68,0.93L0,0.44L-0.68,0.93L-0.42,0.14L-1.09,-0.36L-0.26,-0.36Z", "M-0.85,-0.85L0.85,-0.85L0.85,0.85L-0.85,0.85Z"]}}}}
   ]},
  {"width": 327, "height": 233, "title": {"text": "B"},
   "data": {"name": "d"},
   "transform": [{"filter": "datum.p === 'B'"}, {"calculate": "datum.g === 1 ? datum.y : null", "as": "ys"}],
   "encoding": {"x": {"field": "x", "type": "quantitative", "scale": {"domain": [2, 53], "nice": false, "zero": false}, "axis": {"values": [10, 20, 30, 40, 50], "title": "Network sparsity(%)"}}},
   "layer": [
    {"mark": {"type": "line", "strokeWidth": 1}, "encoding": {"y": {"field": "y", "type": "quantitative", "scale": {"domain": [-0.4, 0.395], "nice": false, "zero": false}, "axis": {"values": [-0.4, -0.2, 0, 0.2], "labelExpr": "datum.value == 0 ? '0' : (datum.value < 0 ? '-' : '') + format(abs(datum.value), '.1f')", "title": "correlation coefficient with L"}}, "detail": {"field": "s", "type": "nominal"}, "color": {"datum": "No correlation", "type": "nominal", "title": null}}},
    {"mark": {"type": "line", "strokeWidth": 1}, "encoding": {"y": {"field": "ys", "type": "quantitative"}, "color": {"field": "s", "type": "nominal", "title": null}}},
    {"transform": [{"filter": "datum.g === 1"}], "mark": {"type": "point", "filled": false, "size": 42, "strokeWidth": 1, "opacity": 1}, "encoding": {"y": {"field": "y", "type": "quantitative"}, "color": {"field": "s", "type": "nominal", "title": null}, "shape": {"field": "s", "type": "nominal", "legend": null}}}
   ]}
 ], "spacing": 16},
 {"hconcat": [
  {"width": 327, "height": 233, "title": {"text": "C"},
   "data": {"name": "d"},
   "transform": [{"filter": "datum.p === 'C'"}, {"calculate": "datum.g === 1 ? datum.y : null", "as": "ys"}],
   "encoding": {"x": {"field": "x", "type": "quantitative", "scale": {"domain": [2, 53], "nice": false, "zero": false}, "axis": {"values": [10, 20, 30, 40, 50], "title": "Network sparsity(%)"}}},
   "layer": [
    {"mark": {"type": "line", "strokeWidth": 1}, "encoding": {"y": {"field": "y", "type": "quantitative", "scale": {"domain": [-0.4, 0.395], "nice": false, "zero": false}, "axis": {"values": [-0.4, -0.2, 0, 0.2], "labelExpr": "datum.value == 0 ? '0' : (datum.value < 0 ? '-' : '') + format(abs(datum.value), '.1f')", "title": "correlation coefficient with GE"}}, "detail": {"field": "s", "type": "nominal"}, "color": {"datum": "No correlation", "type": "nominal", "title": null}}},
    {"mark": {"type": "line", "strokeWidth": 1}, "encoding": {"y": {"field": "ys", "type": "quantitative"}, "color": {"field": "s", "type": "nominal", "title": null}}},
    {"transform": [{"filter": "datum.g === 1"}], "mark": {"type": "point", "filled": false, "size": 42, "strokeWidth": 1, "opacity": 1}, "encoding": {"y": {"field": "y", "type": "quantitative"}, "color": {"field": "s", "type": "nominal", "title": null}, "shape": {"field": "s", "type": "nominal", "legend": null}}}
   ]},
  {"width": 327, "height": 233, "title": {"text": "D"},
   "data": {"name": "d"},
   "transform": [{"filter": "datum.p === 'D'"}, {"calculate": "datum.g === 1 ? datum.y : null", "as": "ys"}],
   "encoding": {"x": {"field": "x", "type": "quantitative", "scale": {"domain": [2, 53], "nice": false, "zero": false}, "axis": {"values": [10, 20, 30, 40, 50], "title": "Network sparsity(%)"}}},
   "layer": [
    {"mark": {"type": "line", "strokeWidth": 1}, "encoding": {"y": {"field": "y", "type": "quantitative", "scale": {"domain": [-0.4, 0.395], "nice": false, "zero": false}, "axis": {"values": [-0.4, -0.2, 0, 0.2], "labelExpr": "datum.value == 0 ? '0' : (datum.value < 0 ? '-' : '') + format(abs(datum.value), '.1f')", "title": "correlation coefficient with SW"}}, "detail": {"field": "s", "type": "nominal"}, "color": {"datum": "No correlation", "type": "nominal", "title": null}}},
    {"mark": {"type": "line", "strokeWidth": 1}, "encoding": {"y": {"field": "ys", "type": "quantitative"}, "color": {"field": "s", "type": "nominal", "title": null}}},
    {"transform": [{"filter": "datum.g === 1"}], "mark": {"type": "point", "filled": false, "size": 42, "strokeWidth": 1, "opacity": 1}, "encoding": {"y": {"field": "y", "type": "quantitative"}, "color": {"field": "s", "type": "nominal", "title": null}, "shape": {"field": "s", "type": "nominal", "legend": null}}}
   ]}
 ], "spacing": 16}
],
"spacing": 14,
"config": {
 "view": {"stroke": null},
 "font": "Liberation Serif",
 "axis": {"grid": false, "ticks": false, "domainColor": "#808080", "domainWidth": 1, "labelFont": "Liberation Serif", "labelFontSize": 17, "labelFontWeight": "bold", "labelColor": "#262626", "labelPadding": 4, "titleFont": "Liberation Serif", "titleFontSize": 18, "titleFontWeight": "bold", "titleColor": "#000000"},
 "axisY": {"titlePadding": 6, "titleFontSize": 17},
 "axisX": {"titlePadding": 6},
 "legend": {"orient": "none", "legendX": 19, "legendY": 595, "direction": "horizontal", "columns": 3, "gridAlign": "none", "columnPadding": 10, "rowPadding": 4, "symbolSize": 121, "symbolStrokeWidth": 1, "labelOffset": 24, "labelFont": "Liberation Serif", "labelFontSize": 16, "labelFontWeight": "bold", "labelColor": "#000000", "labelLimit": 0, "padding": 6, "strokeColor": "#8c8c8c"},
 "title": {"anchor": "start", "frame": "bounds", "font": "Liberation Sans", "fontSize": 18, "fontWeight": "bold", "color": "#000000", "offset": -9}
}
}
